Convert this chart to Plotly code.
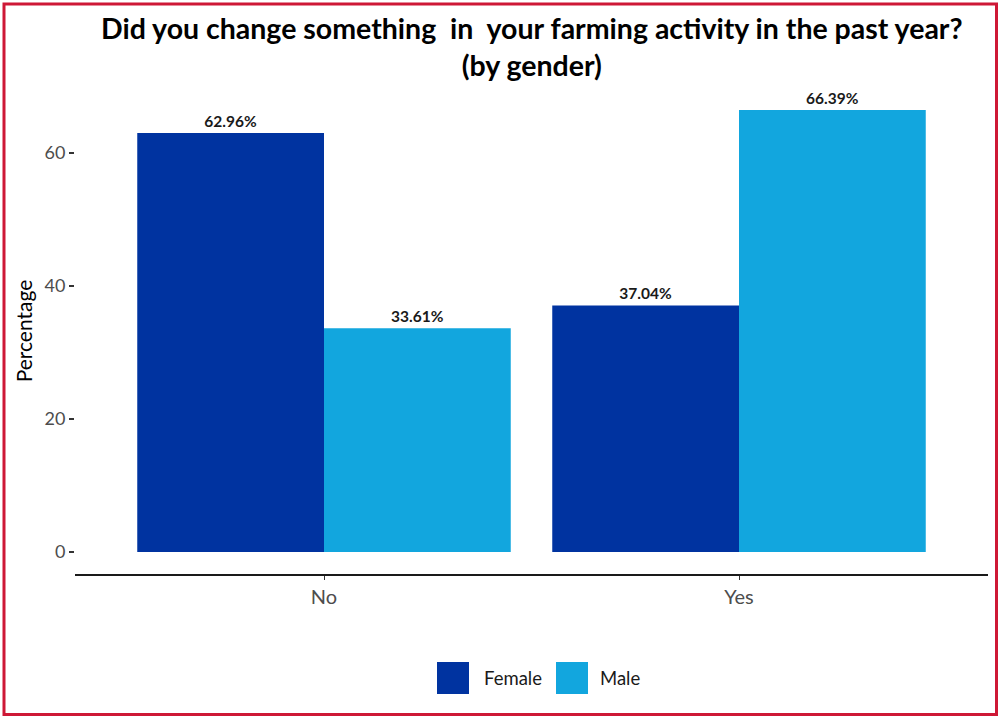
import plotly.graph_objects as go

# Survey answers and share of respondents (%) by gender
answers = ["No", "Yes"]
genders = ["Female", "Male"]
female_pct = [62.96, 37.04]
male_pct = [33.61, 66.39]
y_ticks = [0, 20, 40, 60]

colors = {"Female": "#0033A0", "Male": "#12A6DE"}
values = {"Female": female_pct, "Male": male_pct}

W, H = 999, 717
FONT = "Lato"

# plot area in pixels
px_left, px_right = 75, 988
px_top, px_bottom = 88, 574

fig = go.Figure()
for g in genders:
    fig.add_trace(go.Bar(
        x=answers, y=values[g], name=g,
        marker=dict(color=colors[g], line=dict(width=0)),
        texttemplate="%{y:.2f}%", textposition="outside",
        textfont=dict(family=FONT, size=15.5, color="#1a1a1a", weight="bold"),
        constraintext="none", cliponaxis=False, showlegend=False,
    ))

ymax = max(female_pct + male_pct)
pad = 0.05 * ymax
fig.update_layout(
    width=W, height=H,
    margin=dict(l=0, r=0, t=0, b=0),
    paper_bgcolor="white", plot_bgcolor="white",
    barmode="group", bargap=0.1, bargroupgap=0,
    font=dict(family=FONT),
    xaxis=dict(
        domain=[px_left / W, px_right / W],
        range=[-0.6, 1.6],
        showline=True, linecolor="#1a1a1a", linewidth=2,
        ticks="outside", ticklen=4, tickcolor="#333333", tickwidth=1,
        tickfont=dict(family=FONT, size=20, color="#4d4d4d"),
        showgrid=False, zeroline=False,
    ),
    yaxis=dict(
        domain=[1 - px_bottom / H, 1 - px_top / H],
        range=[-pad, ymax + pad],
        tickvals=y_ticks,
        ticks="outside", ticklen=5, tickcolor="#333333", tickwidth=1.5,
        tickfont=dict(family=FONT, size=18, color="#4d4d4d"),
        showline=False, showgrid=False, zeroline=False,
        title=dict(text="Percentage", font=dict(family=FONT, size=21, color="black"), standoff=6),
    ),
)

# chart title, centred over the panel
fig.add_annotation(
    xref="paper", yref="paper",
    x=(px_left + px_right) / 2 / W, y=1 - 9 / H,
    xanchor="center", yanchor="top", showarrow=False, align="center",
    text="Did you change something \u00a0in \u00a0your farming activity in the past year?<br>(by gender)",
    font=dict(family=FONT, size=28.5, color="black", weight="bold"),
)

# legend drawn as swatches with labels below the panel
sw = 32
legend_items = [(genders[0], 437, 482), (genders[1], 556, 598)]
cy = 678
for g, sx, tx in legend_items:
    fig.add_shape(type="rect", xref="paper", yref="paper",
                  x0=sx / W, x1=(sx + sw) / W,
                  y0=1 - (cy + sw / 2) / H, y1=1 - (cy - sw / 2) / H,
                  fillcolor=colors[g], line=dict(width=0))
    fig.add_annotation(xref="paper", yref="paper", x=tx / W, y=1 - cy / H,
                       xanchor="left", yanchor="middle", showarrow=False,
                       text=g, font=dict(family=FONT, size=18.5, color="#1a1a1a"))

# red frame around the figure
fig.add_shape(type="rect", xref="paper", yref="paper",
              x0=4 / W, x1=996.5 / W, y0=1 - 714.5 / H, y1=1 - 4 / H,
              line=dict(color="#CE1836", width=3), fillcolor="rgba(0,0,0,0)")

fig.write_html("out.html")
